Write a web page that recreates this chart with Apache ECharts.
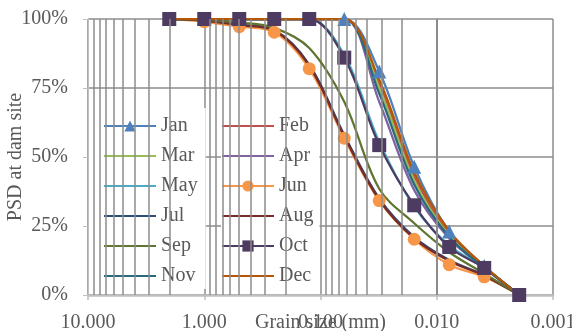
<!DOCTYPE html>
<html>
<head>
<meta charset="utf-8">
<script src="https://cdn.jsdelivr.net/npm/echarts@6/dist/echarts.min.js"></script>
<style>
html,body{margin:0;padding:0;background:#fff;}
#chart{width:572px;height:331px;}
</style>
</head>
<body>
<div id="chart"></div>
<script>
// Grain sizes (mm) of the measured points
var grainSizes = [2, 1, 0.5, 0.25, 0.125, 0.0625, 0.03125, 0.015625, 0.0078125, 0.00390625, 0.001953125];
// PSD (% finer) per month
var jan = [100, 100, 100, 100, 100, 100, 81, 46.5, 23, 10.5, 0];
var feb = [100, 100, 100, 100, 100, 100, 76.5, 43, 22, 10.2, 0];
var mar = [100, 100, 100, 100, 100, 100, 75, 41.5, 21.5, 10, 0];
var apr = [100, 100, 100, 100, 100, 100, 70, 38, 20.5, 9.8, 0];
var may = [100, 100, 100, 100, 100, 87, 55.5, 32, 18, 9.8, 0];
var jun = [100, 99, 97.2, 95.2, 82, 56.8, 34.2, 20.2, 11, 6.6, 0];
var jul = [100, 99.5, 98, 96, 83.5, 58, 35, 21, 12.7, 7.2, 0];
var aug = [100, 99.4, 97.8, 95.8, 83, 57.5, 34.5, 20.5, 12.3, 7, 0];
var sep = [100, 99.7, 98.7, 96.8, 89.5, 70, 38.5, 26, 15.5, 7.8, 0];
var oct = [100, 100, 100, 100, 100, 86, 54.3, 32.5, 17.4, 9.8, 0];
var nov = [100, 100, 100, 100, 100, 100, 73, 40, 21, 10, 0];
var dec = [100, 100, 100, 100, 100, 100, 78, 44.5, 23.2, 10.5, 0];
var months = ['Jan','Feb','Mar','Apr','May','Jun','Jul','Aug','Sep','Oct','Nov','Dec'];
var monthData = [jan, feb, mar, apr, may, jun, jul, aug, sep, oct, nov, dec];
// Tick labels
var xMin = 0.001, xMax = 10;
var yTicks = [0, 25, 50, 75, 100];
// minor log gridline multipliers and decades
var minorMult = [2, 3, 4, 5, 6, 7, 8, 9];
var decades = [0.001, 0.01, 0.1, 1];

var colors = ['#4F81BD','#C0504D','#9BBB59','#8064A2','#4BACC6','#F79646','#2C4D75','#772C2A','#5F7530','#4D3B62','#276A7C','#B65708'];
var symbols = {Jan: ['triangle', 14], Jun: ['circle', 13], Oct: ['rect', 14]};
var font = '"Liberation Serif","Times New Roman",serif';
var gridColor = '#8c8c8c';

var minorLines = [];
decades.forEach(function (d) {
  minorMult.forEach(function (m) { minorLines.push({xAxis: m * d}); });
});

var series = [{
  name: 'grid', type: 'line', data: [], silent: true, z: 1,
  markLine: {
    silent: true, symbol: ['none', 'none'], animation: false,
    label: {show: false},
    lineStyle: {color: gridColor, width: 1.5, type: 'solid'},
    emphasis: {disabled: true},
    data: minorLines
  }
}];
months.forEach(function (m, i) {
  var s = symbols[m];
  series.push({
    name: m,
    type: 'line',
    smooth: 0.35,
    z: 2,
    data: grainSizes.map(function (g, j) { return [g, monthData[i][j]]; }),
    symbol: s ? s[0] : 'none',
    symbolSize: s ? s[1] : 0,
    showSymbol: !!s,
    lineStyle: {width: 2.25, color: colors[i]},
    itemStyle: {color: colors[i]},
    emphasis: {disabled: true}
  });
});

function legendItems(list) {
  return list.map(function (m) {
    return symbols[m] ? {name: m} : {name: m, itemStyle: {opacity: 0}};
  });
}
var legendCommon = {
  orient: 'vertical',
  top: 108,
  itemWidth: 52, itemHeight: 14, itemGap: 10,
  backgroundColor: '#ffffff',
  textStyle: {fontFamily: font, fontSize: 20, color: '#595959', lineHeight: 20},
  selectedMode: false
};

var chart = echarts.init(document.getElementById('chart'), null, {renderer: 'canvas'});
chart.setOption({
  animation: false,
  color: colors,
  textStyle: {fontFamily: font, color: '#595959'},
  grid: {left: 88, right: 19, top: 19, bottom: 36, containLabel: false, outerBoundsMode: 'none'},
  legend: [
    Object.assign({}, legendCommon, {
      left: 89, padding: [8, 8, 3, 14],
      data: legendItems(['Jan','Mar','May','Jul','Sep','Nov'])
    }),
    Object.assign({}, legendCommon, {
      left: 221, padding: [8, 6, 3, 0],
      data: legendItems(['Feb','Apr','Jun','Aug','Oct','Dec'])
    })
  ],
  xAxis: {
    type: 'log', logBase: 10, min: xMin, max: xMax, inverse: true,
    name: 'Grain size (mm)', nameLocation: 'middle', nameGap: 18, nameMoveOverlap: false,
    nameTextStyle: {fontFamily: font, fontSize: 20, color: '#595959'},
    axisLine: {show: true, lineStyle: {color: '#bfbfbf', width: 2.5}},
    axisTick: {show: true, length: 5, lineStyle: {color: '#bfbfbf', width: 1.5}},
    axisLabel: {fontFamily: font, fontSize: 20, color: '#595959', margin: 18,
      showMinLabel: true, showMaxLabel: true, hideOverlap: false,
      formatter: function (v) { return Number(v).toFixed(3); }},
    splitLine: {show: true, lineStyle: {color: gridColor, width: 1.5}}
  },
  yAxis: {
    type: 'value', min: yTicks[0], max: yTicks[yTicks.length - 1], interval: 25,
    name: 'PSD at dam site', nameLocation: 'middle', nameGap: 62, nameMoveOverlap: false,
    nameTextStyle: {fontFamily: font, fontSize: 20, color: '#595959'},
    axisLine: {show: true, lineStyle: {color: '#bfbfbf', width: 1}},
    axisTick: {show: true, length: 5, lineStyle: {color: '#bfbfbf'}},
    axisLabel: {fontFamily: font, fontSize: 20, color: '#595959', margin: 20,
      formatter: function (v) { return v + '%'; }},
    splitLine: {show: true, lineStyle: {color: gridColor, width: 1.5}}
  },
  series: series
});
</script>
</body>
</html>
